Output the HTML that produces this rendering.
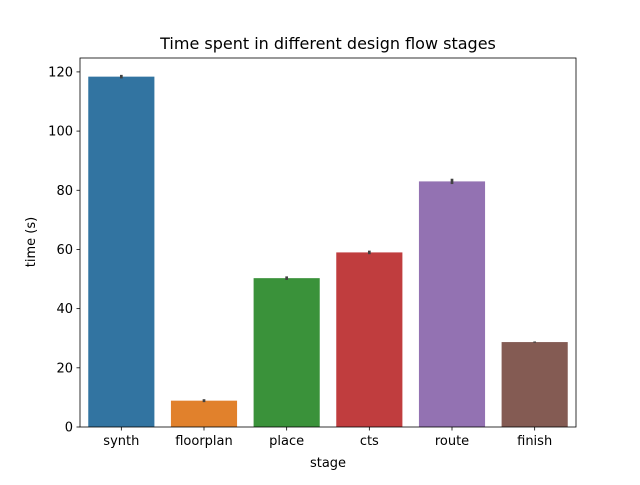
<!DOCTYPE html>
<html><head><meta charset="utf-8"><style>
body{margin:0;background:#fff;font-family:"Liberation Sans","DejaVu Sans",sans-serif}
</style></head><body>
<svg id="chart" width="640" height="480" xmlns="http://www.w3.org/2000/svg" font-family="DejaVu Sans, Liberation Sans, sans-serif">
<rect width="640" height="480" fill="#fff"/>
<text x="328" y="49" font-size="16" text-anchor="middle">Time spent in different design flow stages</text>
<g id="plot"></g>
<text x="328" y="467" font-size="13" text-anchor="middle">stage</text>
<text x="35" y="242" font-size="13" text-anchor="middle" transform="rotate(-90 35 242)">time (s)</text>
</svg>
<script>
const categories=["synth","floorplan","place","cts","route","finish"];
const values=[118.4,8.9,50.3,59.0,83.0,28.7];
const errors=[0.6,0.5,0.6,0.6,0.9,0.2];
const yTicks=[0,20,40,60,80,100,120];
const colors=["#3274a1","#e1812c","#3a923a","#c03d3e","#9372b2","#845b53"];
const L=80,R=576,T=58,B=427,yMax=124.7;
const ns="http://www.w3.org/2000/svg";
const g=document.getElementById('plot');
const y=v=>B-(v/yMax)*(B-T);
const bw=(R-L)/categories.length;
const x=i=>L+bw*(i+0.5);
function el(t,a){const e=document.createElementNS(ns,t);for(const k in a)e.setAttribute(k,a[k]);g.appendChild(e);return e;}
values.forEach((v,i)=>{
 const r=el('rect',{x:x(i)-bw*0.4,y:y(v),width:bw*0.8,height:B-y(v),fill:colors[i]});
 
 
 const e=el('line',{x1:x(i),x2:x(i),y1:y(v+errors[i]),y2:y(v-errors[i]),stroke:'#424242','stroke-width':2.7});
 
 
 el('line',{x1:x(i),x2:x(i),y1:B,y2:B+3.5,stroke:'#000','stroke-width':0.8});
 const t=el('text',{x:x(i),y:B+18,'font-size':13,'text-anchor':'middle'});
 t.textContent=categories[i];
 
 
});
yTicks.forEach(v=>{
 el('line',{x1:L-3.5,x2:L,y1:y(v),y2:y(v),stroke:'#000','stroke-width':0.8});
 const t=el('text',{x:L-7,y:y(v)+4.5,'font-size':13,'text-anchor':'end'});
 t.textContent=v;
 
 
});
const f=el('rect',{x:L,y:T,width:R-L,height:B-T,fill:'none',stroke:'#000','stroke-width':0.8});


</script>
</body></html>
